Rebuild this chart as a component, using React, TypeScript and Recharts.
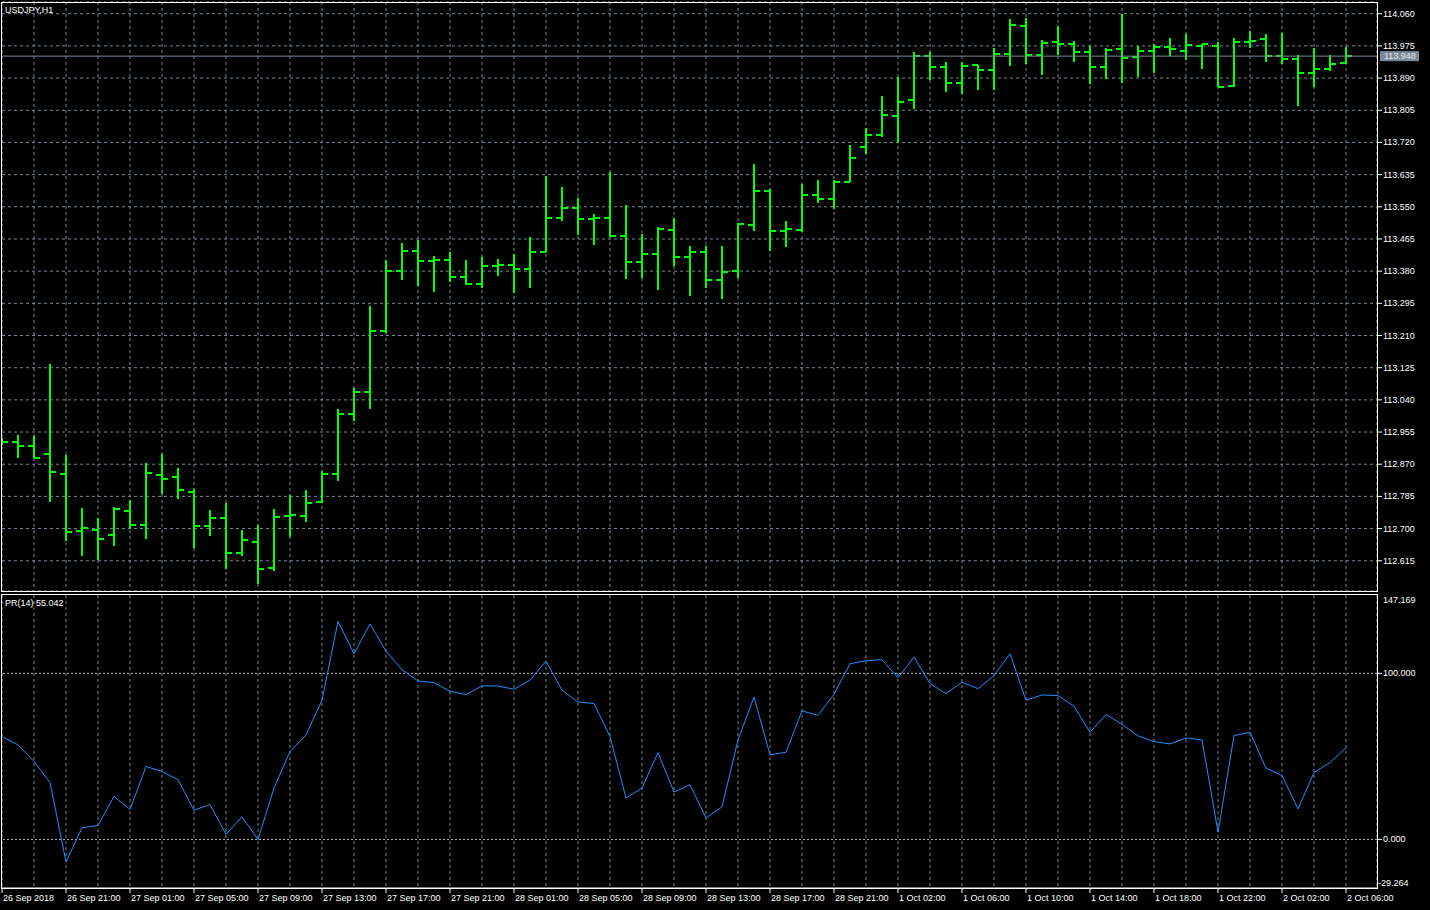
import { Bar, CartesianGrid, ComposedChart, Line, LineChart, ReferenceLine, XAxis, YAxis } from "recharts";

const FONT = "'Liberation Sans', Arial, sans-serif";
const GRID = "#778899";
const BULL = "#00ff00";

// USDJPY H1, one value per hour bar (26 Sep 17:00 .. 2 Oct 06:00)
const OPEN = [
  112.93, 112.93, 112.919, 112.898, 112.845, 112.694, 112.697, 112.684, 112.747, 112.71,
  112.842, 112.837, 112.797, 112.708, 112.729, 112.636, 112.665, 112.597, 112.734, 112.734,
  112.771, 112.845, 113.003, 113.062, 113.223, 113.381, 113.434, 113.408, 113.41, 113.365,
  113.347, 113.394, 113.397, 113.386, 113.431, 113.521, 113.548, 113.519, 113.521, 113.474,
  113.405, 113.426, 113.489, 113.418, 113.431, 113.357, 113.381, 113.503, 113.593, 113.487,
  113.489, 113.582, 113.571, 113.616, 113.709, 113.74, 113.79, 113.832, 113.949, 113.919,
  113.878, 113.925, 113.912, 113.954, 114.028, 113.952, 113.986, 113.979, 113.96, 113.92,
  113.968, 113.946, 113.962, 113.973, 113.962, 113.976, 113.976, 113.87, 113.986, 113.994,
  113.949, 113.941, 113.904, 113.915, 113.931,
];
const HIGH = [
  112.939, 112.947, 112.945, 113.135, 112.894, 112.754, 112.728, 112.757, 112.776, 112.873,
  112.897, 112.86, 112.805, 112.749, 112.768, 112.696, 112.709, 112.752, 112.789, 112.802,
  112.852, 113.016, 113.071, 113.288, 113.409, 113.454, 113.462, 113.42, 113.431, 113.409,
  113.417, 113.412, 113.425, 113.469, 113.631, 113.602, 113.573, 113.531, 113.642, 113.555,
  113.478, 113.497, 113.52, 113.446, 113.446, 113.446, 113.506, 113.663, 113.598, 113.512,
  113.61, 113.621, 113.621, 113.713, 113.758, 113.843, 113.894, 113.959, 113.959, 113.932,
  113.932, 113.925, 113.969, 114.046, 114.049, 113.991, 114.028, 113.988, 113.976, 113.969,
  114.059, 113.976, 113.98, 113.996, 114.007, 113.979, 113.985, 113.996, 114.014, 114.006,
  114.01, 113.951, 113.969, 113.951, 113.972,
];
const LOW = [
  112.921, 112.887, 112.886, 112.771, 112.668, 112.626, 112.617, 112.655, 112.699, 112.673,
  112.791, 112.779, 112.65, 112.681, 112.594, 112.626, 112.554, 112.589, 112.679, 112.718,
  112.768, 112.826, 112.985, 113.017, 113.216, 113.357, 113.341, 113.326, 113.352, 113.344,
  113.334, 113.368, 113.323, 113.334, 113.43, 113.513, 113.474, 113.45, 113.471, 113.36,
  113.363, 113.331, 113.394, 113.313, 113.334, 113.305, 113.36, 113.487, 113.434, 113.442,
  113.482, 113.561, 113.545, 113.614, 113.69, 113.735, 113.719, 113.809, 113.885, 113.854,
  113.848, 113.859, 113.859, 113.923, 113.928, 113.899, 113.952, 113.933, 113.875, 113.886,
  113.878, 113.893, 113.904, 113.949, 113.939, 113.912, 113.865, 113.867, 113.97, 113.933,
  113.928, 113.817, 113.867, 113.909, 113.928,
];
const CLOSE = [
  112.93, 112.919, 112.887, 112.85, 112.691, 112.702, 112.673, 112.753, 112.71, 112.848,
  112.832, 112.803, 112.708, 112.729, 112.636, 112.671, 112.594, 112.731, 112.737, 112.768,
  112.845, 113.003, 113.062, 113.223, 113.381, 113.434, 113.408, 113.41, 113.365, 113.347,
  113.394, 113.397, 113.386, 113.431, 113.521, 113.548, 113.519, 113.521, 113.474, 113.405,
  113.426, 113.492, 113.418, 113.431, 113.357, 113.379, 113.505, 113.593, 113.487, 113.492,
  113.582, 113.571, 113.616, 113.68, 113.74, 113.793, 113.828, 113.949, 113.919, 113.878,
  113.923, 113.912, 113.954, 114.031, 113.952, 113.983, 113.979, 113.96, 113.92, 113.965,
  113.944, 113.962, 113.973, 113.968, 113.978, 113.979, 113.867, 113.986, 113.989, 113.949,
  113.941, 113.904, 113.915, 113.928, 113.948,
];
// PR(14) indicator
const PR = [
  61.9, 56.9, 46.9, 34.3, -13.6, 7.0, 8.4, 25.9, 18.0, 43.9,
  40.9, 35.9, 17.6, 21.0, 3.0, 13.6, 0, 30.9, 52.9, 62.9,
  83.8, 131.3, 111.8, 129.7, 113.4, 102.2, 95.4, 94.4, 89.2, 87.2,
  92.4, 92.4, 90.4, 95.8, 107.4, 89.8, 82.8, 81.8, 61.9, 24.9,
  30.9, 52.3, 28.5, 32.9, 13.0, 19.6, 59.9, 85.8, 50.9, 52.5,
  77.4, 74.7, 87.4, 105.8, 107.6, 108.2, 97.4, 109.8, 93.8, 87.8,
  94.6, 90.8, 98.6, 111.8, 83.8, 87.0, 86.6, 80.2, 64.5, 75.2,
  69.3, 62.3, 58.9, 57.5, 61.1, 59.9, 4.4, 62.5, 64.5, 42.9,
  38.5, 18.4, 40.3, 46.3, 55.0,
];

const TIME_LABELS = [
  "26 Sep 2018", "26 Sep 21:00", "27 Sep 01:00", "27 Sep 05:00", "27 Sep 09:00", "27 Sep 13:00",
  "27 Sep 17:00", "27 Sep 21:00", "28 Sep 01:00", "28 Sep 05:00", "28 Sep 09:00", "28 Sep 13:00",
  "28 Sep 17:00", "28 Sep 21:00", "1 Oct 02:00", "1 Oct 06:00", "1 Oct 10:00", "1 Oct 14:00",
  "1 Oct 18:00", "1 Oct 22:00", "2 Oct 02:00", "2 Oct 06:00",
];
const PRICE_TICKS = [
  114.06, 113.975, 113.89, 113.805, 113.72, 113.635, 113.55, 113.465, 113.38, 113.295,
  113.21, 113.125, 113.04, 112.955, 112.87, 112.785, 112.7, 112.615,
];
const PR_TICKS = [-29.264, 0, 100, 147.169];
const BID = 113.948;
const PR_LAST = 55.042;

const bars = OPEN.map((open, i) => ({
  i,
  open,
  high: HIGH[i],
  low: LOW[i],
  close: CLOSE[i],
  pr: PR[i],
}));

const X_DOMAIN = [0, 85.9375];
const X_TICKS = bars.filter((b) => b.i % 2 === 0).map((b) => b.i);

function OhlcShape(props: any) {
  const { x, y, width, height } = props;
  const d = props.payload ?? props;
  if (x == null || y == null || d.high == null) return null;
  const cx = Math.round(x + width / 2);
  const span = d.high - d.low || 1;
  const toY = (p: number) => y + ((d.high - p) / span) * height;
  const yo = Math.round(toY(d.open));
  const yc = Math.round(toY(d.close));
  return (
    <g fill={BULL}>
      <rect x={cx - 1} y={Math.round(y)} width={2} height={Math.max(1, Math.round(height))} />
      <rect x={cx - 6} y={yo - 1} width={6} height={2} />
      <rect x={cx} y={yc - 1} width={6} height={2} />
    </g>
  );
}

function PriceTick({ x, y, payload }: any) {
  return (
    <g>
      <line x1={x} x2={x + 5} y1={y} y2={y} stroke="#fff" />
      <text x={x + 6} y={y + 3} fill="#fff" fontSize={9} fontFamily={FONT}>
        {payload.value.toFixed(3)}
      </text>
    </g>
  );
}

function PrTick({ x, y, payload }: any) {
  const v = payload.value;
  const edge = v === PR_TICKS[0] || v === PR_TICKS[PR_TICKS.length - 1];
  const dy = v === PR_TICKS[0] ? -2 : v === PR_TICKS[PR_TICKS.length - 1] ? 8 : 3;
  return (
    <g>
      {!edge && <line x1={x} x2={x + 5} y1={y} y2={y} stroke="#fff" />}
      <text x={x + (v < 0 ? 1 : 6)} y={y + dy} fill="#fff" fontSize={9} fontFamily={FONT}>
        {v.toFixed(3)}
      </text>
    </g>
  );
}

function TimeTick({ x, y, payload }: any) {
  const i = payload.value;
  if (i % 4 !== 0) return null;
  return (
    <g>
      <line x1={x} x2={x} y1={y} y2={y + 5} stroke="#fff" />
      <text x={x + 1} y={y + 13} fill="#fff" fontSize={9} fontFamily={FONT}>
        {TIME_LABELS[i / 4]}
      </text>
    </g>
  );
}

function BidLabel({ viewBox }: any) {
  if (!viewBox) return null;
  const x = viewBox.x + viewBox.width + 3;
  const y = viewBox.y;
  return (
    <g>
      <rect x={x} y={y - 5} width={39} height={10} fill={GRID} />
      <text x={x + 4} y={y + 3} fill="#e6e6e6" fontSize={9} fontFamily={FONT}>
        {BID.toFixed(3)}
      </text>
    </g>
  );
}

const caption = {
  position: "absolute" as const,
  left: 5,
  color: "#fff",
  fontFamily: FONT,
  fontSize: 9,
  lineHeight: "10px",
};

export default function App() {
  return (
    <div style={{ position: "absolute", left: 0, top: 0, width: 1430, height: 910, background: "#000", overflow: "hidden" }}>
      <div style={{ position: "absolute", left: 0, top: 0 }}>
        <ComposedChart width={1430} height={593} data={bars} margin={{ top: 2, right: 0, bottom: 2, left: 2 }}>
          <CartesianGrid stroke={GRID} strokeDasharray="3 3" />
          <XAxis dataKey="i" type="number" domain={X_DOMAIN} ticks={X_TICKS} interval={0} allowDataOverflow hide />
          <YAxis
            orientation="right"
            width={53}
            domain={[112.5351, 114.091]}
            ticks={PRICE_TICKS}
            interval={0}
            allowDataOverflow
            tick={<PriceTick />}
            tickSize={0}
            tickMargin={0}
            tickLine={false}
            axisLine={false}
          />
          <ReferenceLine y={BID} stroke={GRID} label={<BidLabel />} />
          <Bar dataKey={(d: any) => [d.low, d.high]} shape={<OhlcShape />} barSize={16} isAnimationActive={false} />
        </ComposedChart>
      </div>
      <div style={{ position: "absolute", left: 0, top: 594 }}>
        <LineChart width={1430} height={316} data={bars} margin={{ top: 1, right: 0, bottom: 0, left: 2 }}>
          <CartesianGrid stroke={GRID} strokeDasharray="3 3" horizontal={false} />
          <XAxis
            dataKey="i"
            type="number"
            domain={X_DOMAIN}
            ticks={X_TICKS}
            interval={0}
            allowDataOverflow
            height={22}
            tick={<TimeTick />}
            tickSize={0}
            tickMargin={0}
            tickLine={false}
            axisLine={{ stroke: "#fff" }}
          />
          <YAxis
            orientation="right"
            width={53}
            domain={[-29.264, 147.169]}
            ticks={PR_TICKS}
            interval={0}
            allowDataOverflow
            tick={<PrTick />}
            tickSize={0}
            tickMargin={0}
            tickLine={false}
            axisLine={false}
          />
          <ReferenceLine y={100} stroke="#c0c0c0" strokeDasharray="2 2" />
          <ReferenceLine y={0} stroke="#c0c0c0" strokeDasharray="2 2" />
          <Line type="linear" dataKey="pr" stroke="#1e90ff" strokeWidth={1} dot={false} isAnimationActive={false} />
        </LineChart>
      </div>
      <div style={{ position: "absolute", left: 1, top: 2, width: 1377, height: 590, border: "1px solid #fff", boxSizing: "border-box", pointerEvents: "none" }} />
      <div style={{ position: "absolute", left: 1, top: 594, width: 1377, height: 295, border: "1px solid #fff", boxSizing: "border-box", pointerEvents: "none" }} />
      <div style={{ ...caption, top: 5 }}>USDJPY,H1</div>
      <div style={{ ...caption, top: 598 }}>PR(14) {PR_LAST.toFixed(3)}</div>
    </div>
  );
}
